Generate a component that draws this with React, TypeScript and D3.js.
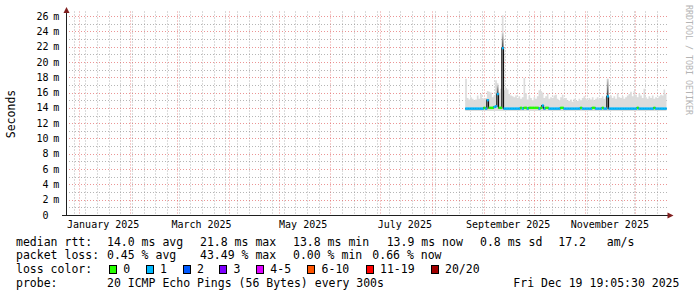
import React from 'react';
import * as d3 from 'd3';

const DAY = 86400000;
const END = Date.UTC(2025, 11, 19, 19, 5, 30);
const START = END - 360 * DAY;
const DATA_START = Date.UTC(2025, 7, 21);

const yLabelValues = [0, 2, 4, 6, 8, 10, 12, 14, 16, 18, 20, 22, 24, 26];
const monthLabelMonths = [0, 2, 4, 6, 8, 10];
const monthLabelTexts = ['January 2025', 'March 2025', 'May 2025', 'July 2025', 'September 2025', 'November 2025'];

// per-day smoke top (ms), from Aug 21 2025
const smokeTop = [
  17.8, 15.3, 15.1, 15.4, 15.2, 15.0, 15.1, 15.6, 15.2, 15.8,
  15.3, 15.2, 15.3, 16.2, 16.1, 16.0, 15.4, 15.6, 17.6, 17.2,
  16.0, 16.5, 26.1, 16.3, 16.6, 16.4, 15.8, 15.6, 15.5, 15.4,
  15.6, 15.3, 15.5, 15.2, 15.4, 17.9, 15.9, 15.1, 15.6, 15.3,
  15.0, 15.4, 15.2, 15.5, 16.3, 16.2, 16.0, 15.3, 15.5, 15.9,
  15.2, 15.4, 15.3, 15.6, 15.7, 15.2, 15.0, 15.4, 15.7, 15.2,
  15.3, 15.0, 14.9, 15.1, 14.8, 15.2, 15.0, 14.9, 15.2, 15.0,
  15.3, 15.5, 15.2, 15.0, 15.3, 15.1, 15.4, 15.0, 15.2, 15.4,
  15.1, 15.3, 15.5, 15.2, 15.4, 17.8, 15.4, 15.6, 15.3, 15.5,
  15.2, 15.9, 15.4, 15.3, 15.5, 15.2, 15.4, 15.6, 15.8, 16.1,
  15.5, 16.2, 15.7, 15.4, 15.9, 15.6, 15.3, 16.5, 15.4, 15.2,
  15.5, 15.3, 15.6, 15.2, 15.4, 15.3, 15.5, 15.7, 15.6, 16.4,
  15.8,
];

const median = [
  13.9, 13.9, 13.9, 13.9, 13.9, 13.9, 13.9, 13.9, 13.9, 13.9,
  13.9, 14.0, 13.9, 15.0, 14.0, 14.0, 14.0, 14.1, 14.2, 15.8,
  14.0, 14.0, 21.8, 13.9, 13.9, 13.9, 13.9, 13.9, 13.9, 13.9,
  13.9, 13.9, 13.9, 14.0, 13.9, 14.0, 14.0, 13.9, 14.0, 14.0,
  14.0, 14.0, 14.0, 14.0, 13.9, 14.0, 14.3, 13.9, 14.0, 14.0,
  13.9, 13.9, 13.9, 13.9, 13.9, 13.9, 13.9, 14.0, 14.0, 13.9,
  13.9, 13.9, 13.9, 13.9, 13.9, 13.9, 13.9, 13.9, 13.9, 14.0,
  13.9, 13.9, 13.9, 13.9, 13.9, 13.9, 14.0, 14.0, 13.9, 13.9,
  13.9, 13.9, 14.0, 13.9, 13.9, 15.5, 13.9, 13.9, 13.9, 13.9,
  13.9, 13.9, 13.9, 13.9, 13.9, 13.9, 13.9, 13.9, 13.9, 13.9,
  13.9, 13.9, 13.9, 14.0, 13.9, 13.9, 13.9, 13.9, 13.9, 13.9,
  13.9, 13.9, 13.9, 14.0, 13.9, 13.9, 13.9, 13.9, 13.9, 13.9,
  13.9,
];

// loss category index per day (0 = no loss, 1 = 1 lost ping, ...)
const loss = [
  1, 1, 1, 1, 1, 1, 1, 1, 1, 1,
  1, 0, 1, 1, 0, 0, 0, 1, 1, 1,
  0, 0, 1, 1, 1, 1, 1, 1, 1, 1,
  1, 1, 1, 0, 1, 0, 0, 1, 0, 0,
  0, 0, 0, 0, 1, 0, 1, 1, 0, 0,
  1, 1, 1, 1, 1, 1, 1, 0, 0, 1,
  1, 1, 1, 1, 1, 1, 1, 1, 1, 0,
  1, 1, 1, 1, 1, 1, 0, 0, 1, 1,
  1, 1, 0, 1, 1, 1, 1, 1, 1, 1,
  1, 1, 1, 1, 1, 1, 1, 1, 1, 1,
  1, 1, 1, 0, 1, 1, 1, 1, 1, 1,
  1, 1, 1, 0, 1, 1, 1, 1, 1, 1,
  1,
];

const smokeMin = 13.6;
const darkIdx = [19, 22, 85];
const darkTop = [17.0, 23.8, 17.8];

const lossColors = ['#26ff00', '#00b8ff', '#0059ff', '#7e00ff', '#dd00ff', '#ff5500', '#ff0000', '#a10000'];
const lossLabels = ['0', '1', '2', '3', '4-5', '6-10', '11-19', '20/20'];

const rttStats = ['14.0 ms avg', '21.8 ms max', '13.8 ms min', '13.9 ms now', '0.8 ms sd', '17.2   am/s'];
const lossStats = ['0.45 % avg', '43.49 % max', '0.00 % min', '0.66 % now'];
const probeText = '20 ICMP Echo Pings (56 Bytes) every 300s';
const dateText = 'Fri Dec 19 19:05:30 2025';

// layout
const rttStatX = [107, 200, 293, 386.7, 480, 558.3];
const lossStatX = [107, 200, 293, 372.3];
const boxX = [109, 145.7, 182.7, 219.3, 256, 307.3, 365.7, 430.7];

const MONO = '"DejaVu Sans Mono", "Liberation Mono", monospace';

export default function App() {
  const x = d3.scaleLinear().domain([START, END]).range([66.5, 666.5]);
  const y = d3.scaleLinear().domain([0, 26]).range([215, 16]);
  const plotTop = 11.5;

  const t = (i: number) => Math.min(DATA_START + i * DAY, END);
  const idx = d3.range(smokeTop.length);
  const stepIdx = [...idx, smokeTop.length];

  const smokeArea = d3
    .area<number>()
    .curve(d3.curveStepAfter)
    .x((i) => x(t(i)))
    .y0(() => y(smokeMin))
    .y1((i) => y(smokeTop[Math.min(i, smokeTop.length - 1)]));

  const medLine = d3
    .line<number>()
    .curve(d3.curveStepAfter)
    .x((i) => x(t(i)))
    .y((i) => y(median[Math.min(i, median.length - 1)]));

  // grid
  const hMinor = d3.range(1, 27).filter((v) => v % 2 === 1);
  const hMajor = d3.range(2, 27, 2);
  const months = d3.utcMonth.range(new Date(START), new Date(END));
  const monthSet = new Set(months.map((d) => d.getTime()));
  const weeks = d3.utcSunday.range(new Date(START), new Date(END)).filter((d) => !monthSet.has(d.getTime()));

  const gridMinor = 'rgba(143,143,143,0.65)';
  const gridMajor = 'rgba(222,79,79,0.6)';
  const px = (v: number) => Math.round(v) + 0.5;

  return (
    <svg
      width={697}
      height={297}
      style={{ position: 'absolute', left: 0, top: 0, background: '#fff' }}
      fontFamily={MONO}
    >
      <defs>
        <linearGradient id="dark" x1="0" y1="1" x2="0" y2="0">
          <stop offset="0" stopColor="#3a3a3a" />
          <stop offset="1" stopColor="#d4d4d4" />
        </linearGradient>
      </defs>
      <rect x={0} y={0} width={697} height={297} fill="#fff" />

      {/* grid */}
      <g strokeWidth={1} strokeDasharray="1,2">
        {hMinor.map((v) => (
          <line key={'hm' + v} x1={66} x2={667} y1={px(y(v))} y2={px(y(v))} stroke={gridMinor} />
        ))}
        {weeks.map((d) => (
          <line key={'vm' + d.getTime()} x1={px(x(d.getTime()))} x2={px(x(d.getTime()))} y1={plotTop} y2={215} stroke={gridMinor} />
        ))}
        {hMajor.map((v) => (
          <line key={'hM' + v} x1={66} x2={667} y1={px(y(v))} y2={px(y(v))} stroke={gridMajor} />
        ))}
        {months.map((d) => (
          <line key={'vM' + d.getTime()} x1={px(x(d.getTime()))} x2={px(x(d.getTime()))} y1={plotTop} y2={215} stroke={gridMajor} />
        ))}
      </g>

      {/* smoke */}
      <path d={smokeArea(stepIdx) || ''} fill="#dcdcdc" />
      {darkIdx.map((i, k) => (
        <rect
          key={'dk' + k}
          x={x(t(i))}
          width={x(t(i + 1)) - x(t(i))}
          y={y(darkTop[k])}
          height={y(median[i]) - y(darkTop[k])}
          fill="url(#dark)"
        />
      ))}

      {/* median */}
      <path d={medLine(stepIdx) || ''} fill="none" stroke="#111" strokeWidth={1.2} />
      {idx.map((i) => (
        <rect
          key={'md' + i}
          x={x(t(i))}
          width={x(t(i + 1)) - x(t(i)) + 0.3}
          y={y(median[i]) - 1.2}
          height={2.4}
          fill={lossColors[loss[i]]}
        />
      ))}

      {/* axes */}
      <g shapeRendering="crispEdges">
        <line x1={66.5} x2={66.5} y1={10} y2={215.5} stroke="#1f1f1f" />
        <line x1={62} x2={668} y1={215.5} y2={215.5} stroke="#1f1f1f" />
      </g>
      <path d="M66.5,7 L69.5,13 L63.5,13 Z" fill="#801f1f" />
      <path d="M673.5,215.5 L667.5,212.5 L667.5,218.5 Z" fill="#801f1f" />

      {/* y labels */}
      <g fontSize={10} fill="#000">
        {yLabelValues.map((v) => (
          <g key={'yl' + v}>
            <text x={48.5} y={y(v) + 3.6} textAnchor="end">{v}</text>
            {v !== 0 && <text x={53.3} y={y(v) + 3.6}>m</text>}
          </g>
        ))}
        {monthLabelMonths.map((m, k) => (
          <text key={'xl' + m} x={x(Date.UTC(2025, m, 1) + 14.8 * DAY)} y={228} textAnchor="middle">
            {monthLabelTexts[k]}
          </text>
        ))}
      </g>

      <text transform="translate(14.5,114) rotate(-90)" fontSize={11.5} textAnchor="middle" fill="#000">
        Seconds
      </text>

      <text transform="translate(685.5,5) rotate(90)" fontSize={8.3} fill="#b4b4b4">
        RRDTOOL / TOBI OETIKER
      </text>

      {/* legend */}
      <g fontSize={11.5} fill="#000" style={{ whiteSpace: 'pre' }}>
        <text x={16} y={245.6}>median rtt:</text>
        {rttStats.map((s, k) => (
          <text key={'rs' + k} x={rttStatX[k]} y={245.6} xmlSpace="preserve">{s}</text>
        ))}
        <text x={16} y={259.2}>packet loss:</text>
        {lossStats.map((s, k) => (
          <text key={'ls' + k} x={lossStatX[k]} y={259.2}>{s}</text>
        ))}
        <text x={16} y={273.2}>loss color:</text>
        {lossLabels.map((s, k) => (
          <g key={'lc' + k}>
            <rect x={boxX[k] + 0.5} y={265.5} width={7} height={7.5} fill={lossColors[k]} stroke="#000" strokeWidth={1} shapeRendering="crispEdges" />
            <text x={boxX[k] + 14.3} y={273.2}>{s}</text>
          </g>
        ))}
        <text x={16} y={286.6}>probe:</text>
        <text x={107} y={286.6}>{probeText}</text>
        <text x={513.3} y={286.6}>{dateText}</text>
      </g>
    </svg>
  );
}
